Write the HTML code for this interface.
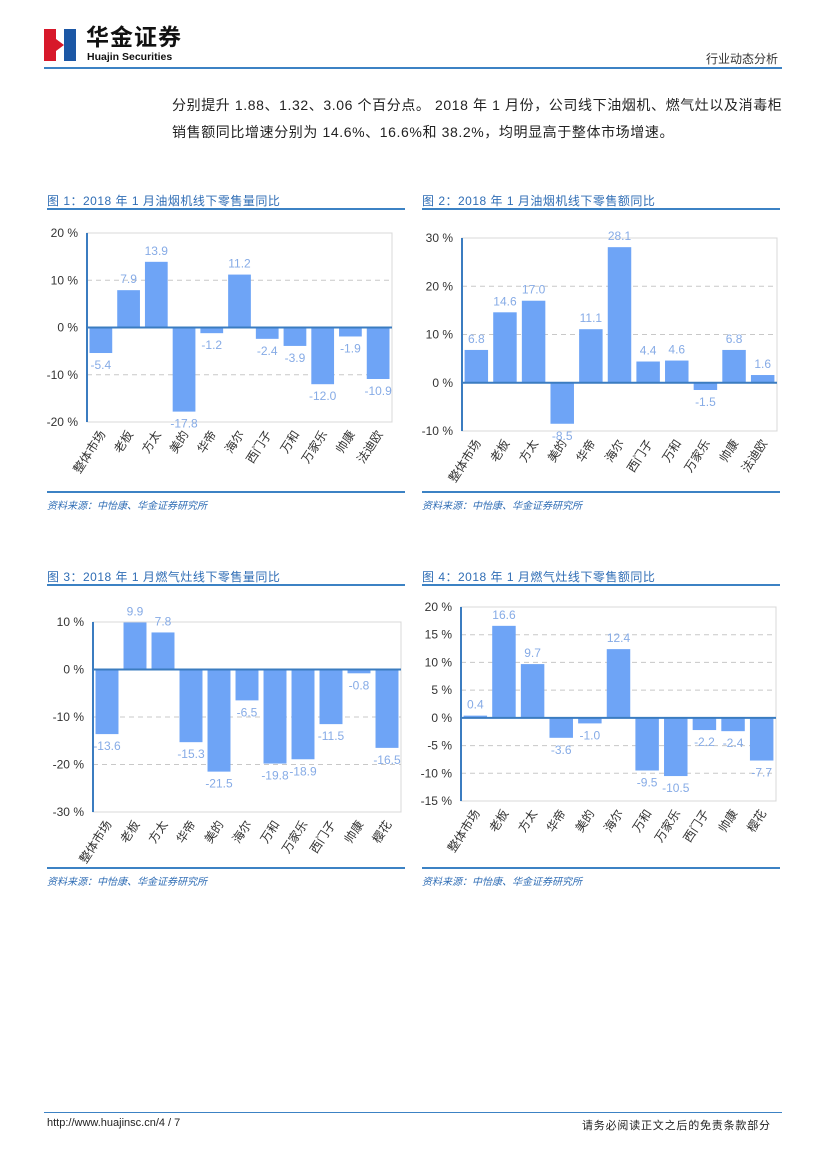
<!DOCTYPE html>
<html><head><meta charset="utf-8"><style>
body{margin:0;background:#fff;font-family:"Liberation Sans","Noto Sans CJK SC",sans-serif;}
#page{position:relative;width:827px;height:1169px;overflow:hidden;background:#fff;}
.abs{position:absolute;}
.title{font-size:12px;color:#2f6db5;letter-spacing:0.5px;}
.src{font-size:10px;color:#2f6db5;font-style:italic;}
.hl{height:1.5px;background:#3c82c4;}
</style></head><body>
<div id="page">
<div class="abs" style="left:44px;top:29px;width:32px;height:32px;">
<svg width="32" height="32"><rect x="0" y="0" width="12" height="32" fill="#d7182a"/><rect x="20" y="0" width="12" height="32" fill="#1c57a5"/><polygon points="12,0 20,0 20,14 14,14 14,18 20,18 20,32 12,32" fill="#fff"/><polygon points="12,10 20,16 12,22" fill="#d7182a"/></svg></div>
<div class="abs" style="left:86px;top:24px;font-size:23px;line-height:26px;font-weight:bold;color:#111;letter-spacing:1px;">华金证券</div>
<div class="abs" style="left:87px;top:51px;font-size:10.5px;line-height:12px;font-weight:bold;color:#111;">Huajin Securities</div>
<div class="abs" style="left:706px;top:50px;font-size:12px;color:#333;">行业动态分析</div>
<div class="abs hl" style="left:44px;top:67px;width:738px;"></div>
<div class="abs" style="left:172px;top:92px;font-size:14px;color:#222;line-height:27px;letter-spacing:0.6px;">分别提升 1.88、1.32、3.06 个百分点。 2018 年 1 月份，公司线下油烟机、燃气灶以及消毒柜<br>销售额同比增速分别为 14.6%、16.6%和 38.2%，均明显高于整体市场增速。</div>

<div class="abs title" style="left:47px;top:192px;">图 1：2018 年 1 月油烟机线下零售量同比</div>
<div class="abs hl" style="left:47px;top:208px;width:358px;"></div>
<div class="abs title" style="left:422px;top:192px;">图 2：2018 年 1 月油烟机线下零售额同比</div>
<div class="abs hl" style="left:422px;top:208px;width:358px;"></div>
<div class="abs hl" style="left:47px;top:491px;width:358px;"></div>
<div class="abs src" style="left:47px;top:497px;">资料来源：中怡康、华金证券研究所</div>
<div class="abs hl" style="left:422px;top:491px;width:358px;"></div>
<div class="abs src" style="left:422px;top:497px;">资料来源：中怡康、华金证券研究所</div>

<div class="abs title" style="left:47px;top:568px;">图 3：2018 年 1 月燃气灶线下零售量同比</div>
<div class="abs hl" style="left:47px;top:584px;width:358px;"></div>
<div class="abs title" style="left:422px;top:568px;">图 4：2018 年 1 月燃气灶线下零售额同比</div>
<div class="abs hl" style="left:422px;top:584px;width:358px;"></div>
<div class="abs hl" style="left:47px;top:867px;width:358px;"></div>
<div class="abs src" style="left:47px;top:873px;">资料来源：中怡康、华金证券研究所</div>
<div class="abs hl" style="left:422px;top:867px;width:358px;"></div>
<div class="abs src" style="left:422px;top:873px;">资料来源：中怡康、华金证券研究所</div>

<svg id="charts" class="abs" style="left:0;top:0" width="827" height="1169"></svg>

<div class="abs hl" style="left:44px;top:1112px;width:738px;height:1px;"></div>
<div class="abs" style="left:47px;top:1117px;font-size:11px;color:#222;">http://www.huajinsc.cn/4 / 7</div>
<div class="abs" style="left:582px;top:1117px;font-size:11px;color:#222;letter-spacing:0.8px;">请务必阅读正文之后的免责条款部分</div>
</div>
<script>
const cats1 = ["整体市场","老板","方太","美的","华帝","海尔","西门子","万和","万家乐","帅康","法迪欧"];
const vals1 = [-5.4,7.9,13.9,-17.8,-1.2,11.2,-2.4,-3.9,-12.0,-1.9,-10.9];
const ticks1 = [20,10,0,-10,-20];
const cats2 = ["整体市场","老板","方太","美的","华帝","海尔","西门子","万和","万家乐","帅康","法迪欧"];
const vals2 = [6.8,14.6,17.0,-8.5,11.1,28.1,4.4,4.6,-1.5,6.8,1.6];
const ticks2 = [30,20,10,0,-10];
const cats3 = ["整体市场","老板","方太","华帝","美的","海尔","万和","万家乐","西门子","帅康","樱花"];
const vals3 = [-13.6,9.9,7.8,-15.3,-21.5,-6.5,-19.8,-18.9,-11.5,-0.8,-16.5];
const ticks3 = [10,0,-10,-20,-30];
const cats4 = ["整体市场","老板","方太","华帝","美的","海尔","万和","万家乐","西门子","帅康","樱花"];
const vals4 = [0.4,16.6,9.7,-3.6,-1.0,12.4,-9.5,-10.5,-2.2,-2.4,-7.7];
const ticks4 = [20,15,10,5,0,-5,-10,-15];

const NS="http://www.w3.org/2000/svg";
const svg=document.getElementById('charts');
function mk(tag,attrs,parent){const e=document.createElementNS(NS,tag);for(const k in attrs)e.setAttribute(k,attrs[k]);(parent||svg).appendChild(e);return e;}
function chart(id,cats,vals,ticks,L,R,T,B){
  const max=ticks[0],min=ticks[ticks.length-1];
  const y=v=>T+(max-v)/(max-min)*(B-T);
  const band=(R-L)/cats.length;
  const x=i=>L+band*i;
  const g=mk('g',{});
  
  
  mk('rect',{x:L,y:T,width:R-L,height:B-T,fill:'none',stroke:'#d8d8d8','stroke-width':1},g);
  ticks.forEach(t=>{
    if(t!==0&&t!==max&&t!==min){const gl=mk('line',{x1:L,x2:R,y1:y(t),y2:y(t),stroke:'#c8c8c8','stroke-dasharray':'5,4','stroke-width':1},g);}
    const tx=mk('text',{x:L-9,y:y(t)+4,'text-anchor':'end','font-size':12,fill:'#333'},g);
    tx.textContent=t+' %';
    
    
  });
  vals.forEach((v,i)=>{
    const bw=band*0.82, bx=x(i)+(band-bw)/2;
    const y0=y(0),yv=y(v);
    const r=mk('rect',{x:bx,y:Math.min(y0,yv),width:bw,height:Math.abs(yv-y0),fill:'#6ea4f6'},g);
    
    
    const ly=v>=0?yv-7:yv+16;
    const lt=mk('text',{x:x(i)+band/2,y:ly,'text-anchor':'middle','font-size':12,fill:'#86abe6'},g);
    lt.textContent=v.toFixed(1);
    
    
    const cx=x(i)+band/2+5, cy=B+12;
    const ct=mk('text',{x:cx,y:cy,'text-anchor':'end','font-size':12,fill:'#333',transform:`rotate(-57 ${cx} ${cy})`},g);
    ct.textContent=cats[i];
    
    
  });
  mk('line',{x1:L,x2:R,y1:y(0),y2:y(0),stroke:'#3b7cc0','stroke-width':2},g);
  mk('line',{x1:L,x2:L,y1:T,y2:B,stroke:'#3b7cc0','stroke-width':2},g);
}
chart('chart-fig1',cats1,vals1,ticks1,87,392,233,422);
chart('chart-fig2',cats2,vals2,ticks2,462,777,238,431);
chart('chart-fig3',cats3,vals3,ticks3,93,401,622,812);
chart('chart-fig4',cats4,vals4,ticks4,461,776,607,801);
</script>
</body></html>
